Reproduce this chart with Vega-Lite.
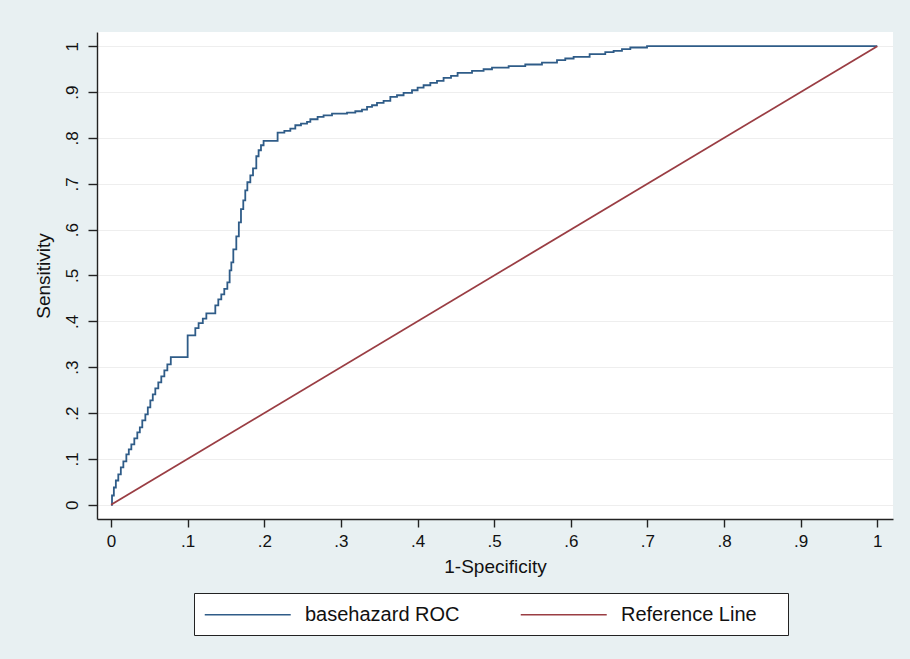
{
  "$schema": "https://vega.github.io/schema/vega-lite/v6.json",
  "width": 796,
  "height": 487,
  "autosize": {"type": "none"},
  "padding": {"left": 97, "top": 32, "right": 17, "bottom": 140},
  "background": "#E8F0F2",
  "config": {"view": {"fill": "white", "stroke": null}, "font": "Liberation Sans"},
  "datasets": {
    "roc": [
      {"series": "basehazard ROC", "fpr": 0, "tpr": 0},
      {"series": "basehazard ROC", "fpr": 0.0013, "tpr": 0.0203},
      {"series": "basehazard ROC", "fpr": 0.0037, "tpr": 0.0377},
      {"series": "basehazard ROC", "fpr": 0.0063, "tpr": 0.053},
      {"series": "basehazard ROC", "fpr": 0.0095, "tpr": 0.0661},
      {"series": "basehazard ROC", "fpr": 0.0128, "tpr": 0.0814},
      {"series": "basehazard ROC", "fpr": 0.0161, "tpr": 0.0945},
      {"series": "basehazard ROC", "fpr": 0.02, "tpr": 0.1098},
      {"series": "basehazard ROC", "fpr": 0.0232, "tpr": 0.1207},
      {"series": "basehazard ROC", "fpr": 0.0265, "tpr": 0.1316},
      {"series": "basehazard ROC", "fpr": 0.0304, "tpr": 0.1447},
      {"series": "basehazard ROC", "fpr": 0.0343, "tpr": 0.1578},
      {"series": "basehazard ROC", "fpr": 0.0376, "tpr": 0.1687},
      {"series": "basehazard ROC", "fpr": 0.0408, "tpr": 0.184},
      {"series": "basehazard ROC", "fpr": 0.0448, "tpr": 0.1971},
      {"series": "basehazard ROC", "fpr": 0.048, "tpr": 0.2123},
      {"series": "basehazard ROC", "fpr": 0.0513, "tpr": 0.2276},
      {"series": "basehazard ROC", "fpr": 0.0545, "tpr": 0.2407},
      {"series": "basehazard ROC", "fpr": 0.0578, "tpr": 0.2538},
      {"series": "basehazard ROC", "fpr": 0.0617, "tpr": 0.2668},
      {"series": "basehazard ROC", "fpr": 0.0656, "tpr": 0.2799},
      {"series": "basehazard ROC", "fpr": 0.0696, "tpr": 0.293},
      {"series": "basehazard ROC", "fpr": 0.0735, "tpr": 0.3061},
      {"series": "basehazard ROC", "fpr": 0.078, "tpr": 0.3221},
      {"series": "basehazard ROC", "fpr": 0.1, "tpr": 0.3694},
      {"series": "basehazard ROC", "fpr": 0.11, "tpr": 0.3853},
      {"series": "basehazard ROC", "fpr": 0.1143, "tpr": 0.3962},
      {"series": "basehazard ROC", "fpr": 0.1198, "tpr": 0.4058},
      {"series": "basehazard ROC", "fpr": 0.1244, "tpr": 0.4174},
      {"series": "basehazard ROC", "fpr": 0.1361, "tpr": 0.4349},
      {"series": "basehazard ROC", "fpr": 0.14, "tpr": 0.448},
      {"series": "basehazard ROC", "fpr": 0.1439, "tpr": 0.4589},
      {"series": "basehazard ROC", "fpr": 0.1478, "tpr": 0.4709},
      {"series": "basehazard ROC", "fpr": 0.1518, "tpr": 0.4851},
      {"series": "basehazard ROC", "fpr": 0.1548, "tpr": 0.5112},
      {"series": "basehazard ROC", "fpr": 0.157, "tpr": 0.5287},
      {"series": "basehazard ROC", "fpr": 0.1596, "tpr": 0.5571},
      {"series": "basehazard ROC", "fpr": 0.1635, "tpr": 0.5854},
      {"series": "basehazard ROC", "fpr": 0.1668, "tpr": 0.616},
      {"series": "basehazard ROC", "fpr": 0.1696, "tpr": 0.6449},
      {"series": "basehazard ROC", "fpr": 0.1726, "tpr": 0.664},
      {"series": "basehazard ROC", "fpr": 0.1752, "tpr": 0.6858},
      {"series": "basehazard ROC", "fpr": 0.1779, "tpr": 0.7033},
      {"series": "basehazard ROC", "fpr": 0.1818, "tpr": 0.7185},
      {"series": "basehazard ROC", "fpr": 0.1853, "tpr": 0.7338},
      {"series": "basehazard ROC", "fpr": 0.1896, "tpr": 0.76},
      {"series": "basehazard ROC", "fpr": 0.1926, "tpr": 0.7731},
      {"series": "basehazard ROC", "fpr": 0.1957, "tpr": 0.784},
      {"series": "basehazard ROC", "fpr": 0.1991, "tpr": 0.7934},
      {"series": "basehazard ROC", "fpr": 0.2174, "tpr": 0.8117},
      {"series": "basehazard ROC", "fpr": 0.2262, "tpr": 0.8152},
      {"series": "basehazard ROC", "fpr": 0.234, "tpr": 0.8204},
      {"series": "basehazard ROC", "fpr": 0.2405, "tpr": 0.8276},
      {"series": "basehazard ROC", "fpr": 0.2479, "tpr": 0.8313},
      {"series": "basehazard ROC", "fpr": 0.2558, "tpr": 0.8348},
      {"series": "basehazard ROC", "fpr": 0.2601, "tpr": 0.8407},
      {"series": "basehazard ROC", "fpr": 0.2696, "tpr": 0.8457},
      {"series": "basehazard ROC", "fpr": 0.2774, "tpr": 0.8494},
      {"series": "basehazard ROC", "fpr": 0.2884, "tpr": 0.8532},
      {"series": "basehazard ROC", "fpr": 0.308, "tpr": 0.8553},
      {"series": "basehazard ROC", "fpr": 0.3188, "tpr": 0.8582},
      {"series": "basehazard ROC", "fpr": 0.3275, "tpr": 0.8619},
      {"series": "basehazard ROC", "fpr": 0.3341, "tpr": 0.8676},
      {"series": "basehazard ROC", "fpr": 0.3406, "tpr": 0.8713},
      {"series": "basehazard ROC", "fpr": 0.3471, "tpr": 0.8763},
      {"series": "basehazard ROC", "fpr": 0.3557, "tpr": 0.8806},
      {"series": "basehazard ROC", "fpr": 0.3645, "tpr": 0.8894},
      {"series": "basehazard ROC", "fpr": 0.3732, "tpr": 0.8931},
      {"series": "basehazard ROC", "fpr": 0.3818, "tpr": 0.8981},
      {"series": "basehazard ROC", "fpr": 0.3928, "tpr": 0.904},
      {"series": "basehazard ROC", "fpr": 0.4001, "tpr": 0.9099},
      {"series": "basehazard ROC", "fpr": 0.4079, "tpr": 0.9149},
      {"series": "basehazard ROC", "fpr": 0.4167, "tpr": 0.9199},
      {"series": "basehazard ROC", "fpr": 0.4254, "tpr": 0.9243},
      {"series": "basehazard ROC", "fpr": 0.434, "tpr": 0.9308},
      {"series": "basehazard ROC", "fpr": 0.4437, "tpr": 0.9352},
      {"series": "basehazard ROC", "fpr": 0.4523, "tpr": 0.9417},
      {"series": "basehazard ROC", "fpr": 0.4711, "tpr": 0.9461},
      {"series": "basehazard ROC", "fpr": 0.4862, "tpr": 0.9498},
      {"series": "basehazard ROC", "fpr": 0.4972, "tpr": 0.9535},
      {"series": "basehazard ROC", "fpr": 0.5189, "tpr": 0.9564},
      {"series": "basehazard ROC", "fpr": 0.5406, "tpr": 0.9601},
      {"series": "basehazard ROC", "fpr": 0.5624, "tpr": 0.9644},
      {"series": "basehazard ROC", "fpr": 0.582, "tpr": 0.9695},
      {"series": "basehazard ROC", "fpr": 0.5928, "tpr": 0.9732},
      {"series": "basehazard ROC", "fpr": 0.6037, "tpr": 0.9767},
      {"series": "basehazard ROC", "fpr": 0.6246, "tpr": 0.9826},
      {"series": "basehazard ROC", "fpr": 0.645, "tpr": 0.9869},
      {"series": "basehazard ROC", "fpr": 0.6559, "tpr": 0.9898},
      {"series": "basehazard ROC", "fpr": 0.6668, "tpr": 0.9935},
      {"series": "basehazard ROC", "fpr": 0.6777, "tpr": 0.9972},
      {"series": "basehazard ROC", "fpr": 0.6995, "tpr": 1},
      {"series": "basehazard ROC", "fpr": 1, "tpr": 1}
    ],
    "ref": [
      {"series": "Reference Line", "fpr": 0, "tpr": 0},
      {"series": "Reference Line", "fpr": 1, "tpr": 1}
    ]
  },
  "encoding": {
    "x": {
      "field": "fpr", "type": "quantitative",
      "scale": {"domain": [-0.0183, 1.0205], "nice": false, "zero": false},
      "axis": {
        "title": "1-Specificity",
        "values": [0, 0.1, 0.2, 0.3, 0.4, 0.5, 0.6, 0.7, 0.8, 0.9, 1],
        "labelExpr": "datum.value == 0 ? '0' : datum.value == 1 ? '1' : replace(format(datum.value, '.1f'), '0.', '.')",
        "grid": false,
        "domainColor": "#222222", "domainWidth": 1.4,
        "tickColor": "#222222", "tickWidth": 1.4, "tickSize": 8,
        "labelFontSize": 17, "labelColor": "#111111", "labelPadding": 6,
        "titleFontSize": 19, "titleFontWeight": "normal", "titleColor": "#111111", "titlePadding": 8
      }
    },
    "y": {
      "field": "tpr", "type": "quantitative",
      "scale": {"domain": [-0.031, 1.031], "nice": false, "zero": false},
      "axis": {
        "title": "Sensitivity",
        "values": [0, 0.1, 0.2, 0.3, 0.4, 0.5, 0.6, 0.7, 0.8, 0.9, 1],
        "labelExpr": "datum.value == 0 ? '0' : datum.value == 1 ? '1' : replace(format(datum.value, '.1f'), '0.', '.')",
        "grid": true, "gridColor": "#EEEEEE", "gridWidth": 1.2,
        "domainColor": "#222222", "domainWidth": 1.4,
        "tickColor": "#222222", "tickWidth": 1.4, "tickSize": 9,
        "labelAngle": -90, "labelFontSize": 17, "labelColor": "#111111", "labelPadding": 7,
        "titleFontSize": 19, "titleFontWeight": "normal", "titleColor": "#111111", "titlePadding": 10
      }
    },
    "color": {
      "field": "series", "type": "nominal",
      "scale": {"domain": ["basehazard ROC", "Reference Line"], "range": ["#2F5C88", "#9A3D43"]},
      "legend": {
        "orient": "none", "legendX": 97, "legendY": 561,
        "direction": "horizontal", "columns": 2, "gridAlign": "all",
        "title": "\u00a0", "titleOrient": "right", "titleFontSize": 4, "titlePadding": 21,
        "symbolType": "M-1,0H7", "symbolSize": 462, "symbolStrokeWidth": 1.5,
        "labelFontSize": 20, "labelColor": "#111111", "labelOffset": 78, "labelLimit": 400,
        "columnPadding": 57, "padding": 10,
        "strokeColor": "#222222", "fillColor": "white"
      }
    }
  },
  "layer": [
    {"data": {"name": "roc"}, "mark": {"type": "line", "interpolate": "step-after", "strokeWidth": 1.8}},
    {"data": {"name": "ref"}, "mark": {"type": "line", "strokeWidth": 1.8}}
  ]
}
